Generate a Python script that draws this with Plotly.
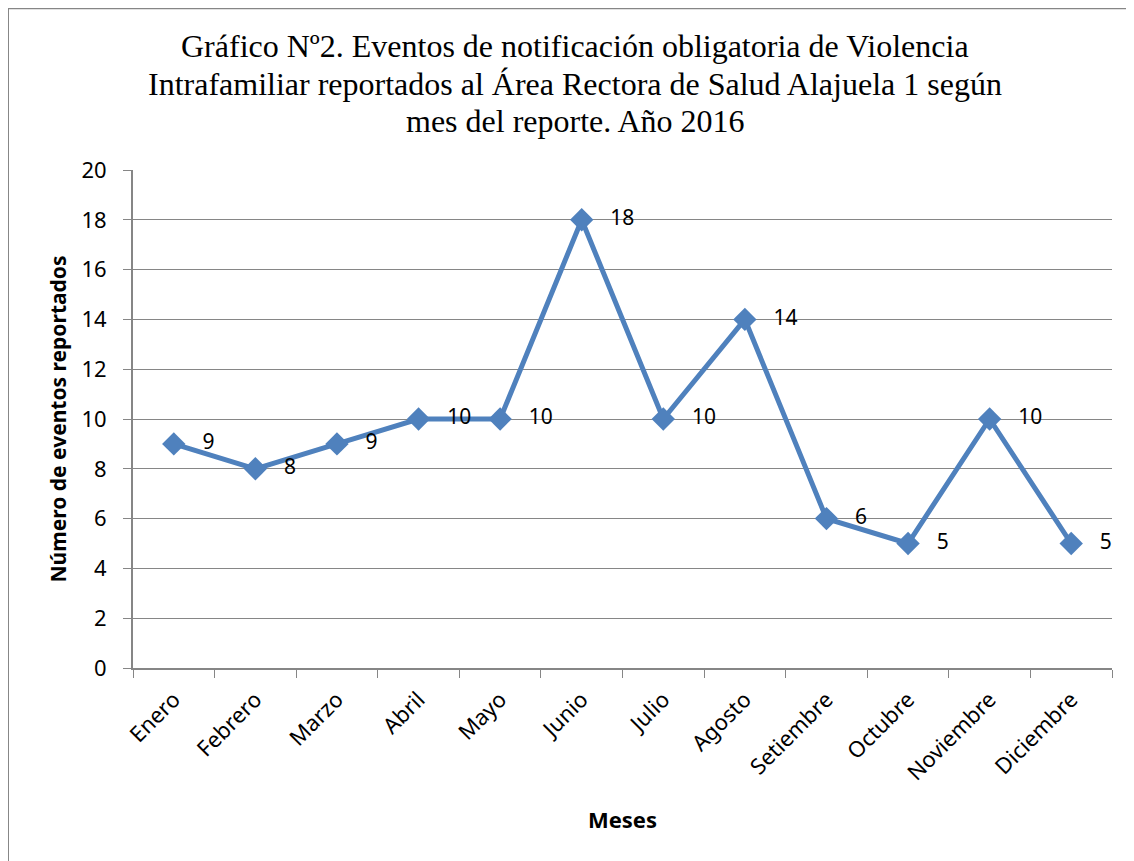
import plotly.graph_objects as go

meses = ["Enero", "Febrero", "Marzo", "Abril", "Mayo", "Junio", "Julio",
         "Agosto", "Setiembre", "Octubre", "Noviembre", "Diciembre"]
eventos = [9, 8, 9, 10, 10, 18, 10, 14, 6, 5, 10, 5]

titulo = ["Gráfico Nº2. Eventos de notificación obligatoria de Violencia",
          "Intrafamiliar reportados al Área Rectora de Salud Alajuela 1 según",
          "mes del reporte. Año 2016"]

serif = "Liberation Serif, Times New Roman, serif"

trace = go.Scatter(
    x=meses, y=eventos,
    mode="lines+markers+text",
    text=[f"   {v}" for v in eventos],
    textposition="middle right",
    textfont=dict(family="Noto Sans", size=21, color="black"),
    line=dict(color="#4F81BD", width=5),
    marker=dict(symbol="diamond", size=18, color="#4F81BD"),
    cliponaxis=False,
    hoverinfo="x+y",
)

# title lines as annotations so the line spacing can match
title_ann = []
for linea, yy in zip(titulo, [1.249, 1.173, 1.098]):
    title_ann.append(dict(text=linea, xref="paper", yref="paper",
                          x=(575 - 133) / 979, y=yy, xanchor="center", yanchor="middle",
                          showarrow=False,
                          font=dict(family=serif, size=32, color="black")))

layout = go.Layout(
    width=1134, height=861,
    paper_bgcolor="white", plot_bgcolor="white",
    showlegend=False,
    margin=dict(l=125, r=30, t=162, b=201, autoexpand=False),
    font=dict(family="Noto Sans", size=21, color="black"),
    xaxis=dict(
        type="category", tickangle=-45, tickson="boundaries",
        range=[-0.5, len(meses) - 0.5],
        ticks="outside", ticklen=8, tickcolor="#868686",
        showline=True, linecolor="#868686", linewidth=2,
        showgrid=False, automargin=False, ticklabelstandoff=8,
        tickfont=dict(family="Noto Sans", size=22),
        title=dict(text="<b>Meses</b>", font=dict(family="Noto Sans", size=22), standoff=28),
    ),
    yaxis=dict(
        range=[0, 20], dtick=2,
        ticks="outside", ticklen=8, tickcolor="#868686",
        showline=True, linecolor="#868686", linewidth=2,
        showgrid=True, gridcolor="#868686", gridwidth=1,
        zeroline=False, automargin=False, ticklabelstandoff=12,
        tickfont=dict(family="Noto Sans", size=22),
        title=dict(text="<b>Número de eventos reportados</b>",
                   font=dict(family="Noto Sans", size=21), standoff=9),
    ),
    annotations=title_ann,
    shapes=[dict(type="rect", xref="paper", yref="paper",
                 x0=-0.1277, x1=1.3, y0=-0.5, y1=1.325,
                 line=dict(color="#868686", width=2), layer="below")],
)

fig = go.Figure(data=[trace], layout=layout)
fig.write_html("out.html")
